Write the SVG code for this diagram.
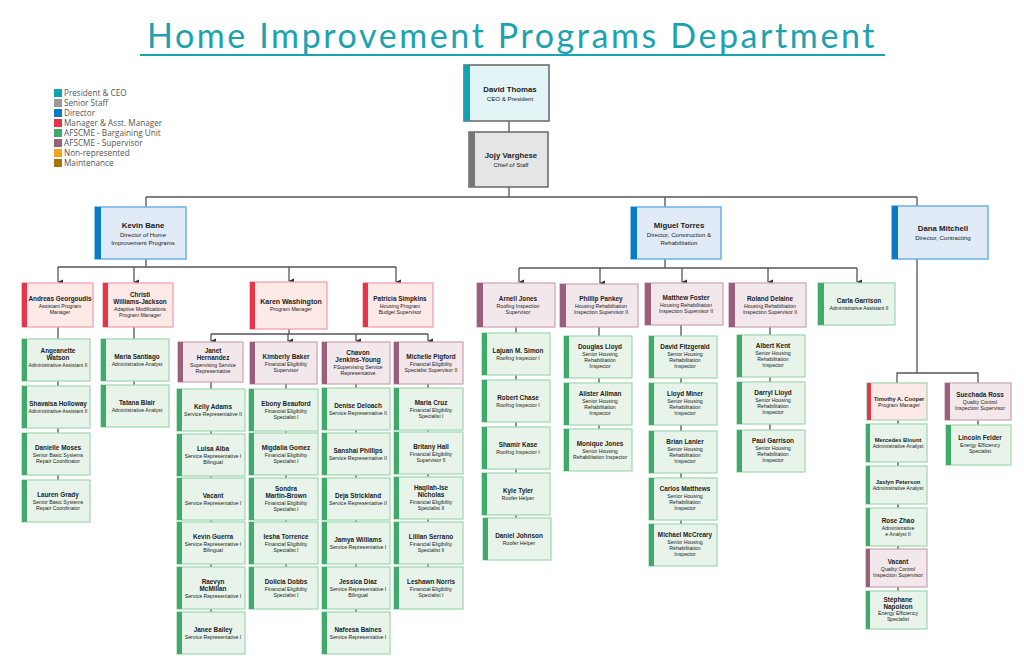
<svg xmlns="http://www.w3.org/2000/svg" width="1024" height="663" viewBox="0 0 1024 663">
<defs>
<marker id="ar" markerWidth="6" markerHeight="6" refX="3" refY="5" orient="auto" markerUnits="userSpaceOnUse"><path d="M0.5,0 L5.5,0 L3,5.5 Z" fill="#333"/></marker>
<style>
text{font-family:"Liberation Sans",Arial,sans-serif;text-anchor:middle;fill:#222}
.n{font-weight:bold;font-size:6.4px}
.t{font-size:5.2px}
.N{font-weight:bold;font-size:7.8px}
.T{font-size:6.1px}
.ceo{fill:#e3f4f7;stroke:#666;stroke-width:1.5}
.sen{fill:#e5e5e5;stroke:#666;stroke-width:1.5}
.dir{fill:#e1ebf7;stroke:#6ab2e4;stroke-width:1.5}
.mgr{fill:#fde9e6;stroke:#f19ca7;stroke-width:1.2}
.bar{fill:#e8f4ea;stroke:#9ed6af;stroke-width:1.2}
.sup{fill:#f2e8ec;stroke:#c9a2b4;stroke-width:1.2}
.aceo{fill:#13a3b0}.asen{fill:#777}.adir{fill:#0a7ac4}.amgr{fill:#e8334a}.abar{fill:#3faa6a}.asup{fill:#9a5f7a}
.c{fill:none;stroke:#555;stroke-width:1.3}
.lg{font-family:"Open Sans","Liberation Sans",sans-serif;font-size:8.2px;text-anchor:start;fill:#555}
</style>
</defs>
<rect width="1024" height="663" fill="#fff"/>
<text x="512" y="48" style="font-family:Lato,'Open Sans',sans-serif;font-size:34px;font-weight:normal;fill:#1ba3b0;letter-spacing:2.6px">Home Improvement Programs Department</text>
<line x1="140" y1="55" x2="885" y2="55" stroke="#1ba3b0" stroke-width="2"/>
<g id="legend">
<rect x="54" y="89" width="8" height="8" class="aceo"/><text class="lg" x="64" y="96">President &amp; CEO</text>
<rect x="54" y="99" width="8" height="8" fill="#999"/><text class="lg" x="64" y="106">Senior Staff</text>
<rect x="54" y="109" width="8" height="8" class="adir"/><text class="lg" x="64" y="116">Director</text>
<rect x="54" y="119" width="8" height="8" class="amgr"/><text class="lg" x="64" y="126">Manager &amp; Asst. Manager</text>
<rect x="54" y="129" width="8" height="8" class="abar"/><text class="lg" x="64" y="136">AFSCME - Bargaining Unit</text>
<rect x="54" y="139" width="8" height="8" class="asup"/><text class="lg" x="64" y="146">AFSCME - Supervisor</text>
<rect x="54" y="149" width="8" height="8" fill="#f7a21b"/><text class="lg" x="64" y="156">Non-represented</text>
<rect x="54" y="159" width="8" height="8" fill="#a8730f"/><text class="lg" x="64" y="166">Maintenance</text>
</g>
<g id="connectors">
<path class="c" d="M509 121V132M509 187V197M146 197H917M146 197V207M665 197V207M917 197V206"/>
<path class="c" d="M146 259V267M58 267H396M289 329V334M211 334H428M665 259V268M519 268H857M917 259V373"/>
<path class="c" marker-end="url(#ar)" d="M58 267V282"/>
<path class="c" marker-end="url(#ar)" d="M134 267V282"/>
<path class="c" marker-end="url(#ar)" d="M289 267V281"/>
<path class="c" marker-end="url(#ar)" d="M396 267V282"/>
<path class="c" marker-end="url(#ar)" d="M211 334V341"/>
<path class="c" marker-end="url(#ar)" d="M288 334V341"/>
<path class="c" marker-end="url(#ar)" d="M356 334V341"/>
<path class="c" marker-end="url(#ar)" d="M428 334V341"/>
<path class="c" marker-end="url(#ar)" d="M519 268V282"/>
<path class="c" marker-end="url(#ar)" d="M600 268V283"/>
<path class="c" marker-end="url(#ar)" d="M682 268V282"/>
<path class="c" marker-end="url(#ar)" d="M768 268V282"/>
<path class="c" marker-end="url(#ar)" d="M857 268V282"/>
<path class="c" stroke="#9a5f7a" d="M897 383V373H978V383"/>
<path class="c" d="M58 327V480M134 327V385M211 382V612M286 384V567M356 384V612M428 384V567M516 327V518M599 327V429M681 325V524M770 327V430M898 420V591M978 420V425"/>
</g>
<g id="ceo"><rect class="ceo" x="464" y="65" width="85" height="56"/><rect class="aceo" x="464" y="65" width="6" height="56"/><text x="510" y="92"><tspan class="N">David Thomas</tspan><tspan class="T" x="510" dy="9">CEO &amp; President</tspan></text></g>
<g id="chief"><rect class="sen" x="469" y="132" width="79" height="55"/><rect class="asen" x="469" y="132" width="6" height="55"/><text x="511" y="158"><tspan class="N">Jojy Varghese</tspan><tspan class="T" x="511" dy="9">Chief of Staff</tspan></text></g>
<g id="kevin"><rect class="dir" x="95" y="207" width="91" height="52"/><rect class="adir" x="95" y="207" width="6" height="52"/><text x="143" y="228"><tspan class="N">Kevin Bane</tspan><tspan class="T" x="143" dy="9">Director of Home</tspan><tspan class="T" x="143" dy="8">Improvement Programs</tspan></text></g>
<g id="miguel"><rect class="dir" x="631" y="207" width="90" height="52"/><rect class="adir" x="631" y="207" width="6" height="52"/><text x="679" y="228"><tspan class="N">Miguel Torres</tspan><tspan class="T" x="679" dy="9">Director, Construction &amp;</tspan><tspan class="T" x="679" dy="8">Rehabilitation</tspan></text></g>
<g id="dana"><rect class="dir" x="892" y="206" width="96" height="53"/><rect class="adir" x="892" y="206" width="6" height="53"/><text x="943" y="231"><tspan class="N">Dana Mitchell</tspan><tspan class="T" x="943" dy="9">Director, Contracting</tspan></text></g>

<g id="andreas"><rect class="mgr" x="22" y="283" width="71" height="44"/><rect class="amgr" x="22" y="283" width="5" height="44"/><text x="60" y="301"><tspan class="n">Andreas Georgoudis</tspan><tspan class="t" x="60" dy="6.5">Assistant Program</tspan><tspan class="t" x="60" dy="6">Manager</tspan></text></g>
<g id="christi"><rect class="mgr" x="103" y="283" width="70" height="44"/><rect class="amgr" x="103" y="283" width="5" height="44"/><text x="140" y="297"><tspan class="n">Christi</tspan><tspan class="n" x="140" dy="7">Williams-Jackson</tspan><tspan class="t" x="140" dy="6.5">Adaptive Modifications</tspan><tspan class="t" x="140" dy="6">Program Manager</tspan></text></g>
<g id="karen"><rect class="mgr" x="250" y="282" width="77" height="47"/><rect class="amgr" x="250" y="282" width="5" height="47"/><text x="291" y="304"><tspan class="N" style="font-size:7px">Karen Washington</tspan><tspan class="t" x="291" dy="7">Program Manager</tspan></text></g>
<g id="patricia"><rect class="mgr" x="363" y="283" width="70" height="44"/><rect class="amgr" x="363" y="283" width="5" height="44"/><text x="400" y="301"><tspan class="n">Patricia Simpkins</tspan><tspan class="t" x="400" dy="6.5">Housing Program</tspan><tspan class="t" x="400" dy="6">Budget Supervisor</tspan></text></g>

<g id="angeanette"><rect class="bar" x="22" y="339" width="68" height="42"/><rect class="abar" x="22" y="339" width="5" height="42"/><text x="58" y="353"><tspan class="n">Angeanette</tspan><tspan class="n" x="58" dy="7">Watson</tspan><tspan class="t" x="58" dy="6.5">Administrative Assistant II</tspan></text></g>
<g id="shavaisa"><rect class="bar" x="22" y="386" width="68" height="42"/><rect class="abar" x="22" y="386" width="5" height="42"/><text x="58" y="406"><tspan class="n">Shavaisa Holloway</tspan><tspan class="t" x="58" dy="6.5">Administrative Assistant II</tspan></text></g>
<g id="danielle"><rect class="bar" x="22" y="433" width="68" height="42"/><rect class="abar" x="22" y="433" width="5" height="42"/><text x="58" y="450"><tspan class="n">Danielle Moses</tspan><tspan class="t" x="58" dy="6.5">Senior Basic Systems</tspan><tspan class="t" x="58" dy="6">Repair Coordinator</tspan></text></g>
<g id="lauren"><rect class="bar" x="22" y="480" width="68" height="42"/><rect class="abar" x="22" y="480" width="5" height="42"/><text x="58" y="497"><tspan class="n">Lauren Grady</tspan><tspan class="t" x="58" dy="6.5">Senior Basic Systems</tspan><tspan class="t" x="58" dy="6">Repair Coordinator</tspan></text></g>
<g id="mariasantiago"><rect class="bar" x="101" y="339" width="68" height="42"/><rect class="abar" x="101" y="339" width="5" height="42"/><text x="137" y="359"><tspan class="n">Maria Santiago</tspan><tspan class="t" x="137" dy="6.5">Administrative Analyst</tspan></text></g>
<g id="tatana"><rect class="bar" x="101" y="385" width="68" height="42"/><rect class="abar" x="101" y="385" width="5" height="42"/><text x="137" y="405"><tspan class="n">Tatana Blair</tspan><tspan class="t" x="137" dy="6.5">Administrative Analyst</tspan></text></g>

<g id="janet"><rect class="sup" x="178" y="342" width="65" height="40"/><rect class="asup" x="178" y="342" width="5" height="40"/><text x="213" y="353"><tspan class="n">Janet</tspan><tspan class="n" x="213" dy="7">Hernandez</tspan><tspan class="t" x="213" dy="6.5">Supervising Service</tspan><tspan class="t" x="213" dy="6">Representative</tspan></text></g>
<g id="kimberly"><rect class="sup" x="250" y="342" width="67" height="42"/><rect class="asup" x="250" y="342" width="5" height="42"/><text x="286" y="359"><tspan class="n">Kimberly Baker</tspan><tspan class="t" x="286" dy="6.5">Financial Eligibility</tspan><tspan class="t" x="286" dy="6">Supervisor</tspan></text></g>
<g id="chavon"><rect class="sup" x="322" y="342" width="68" height="42"/><rect class="asup" x="322" y="342" width="5" height="42"/><text x="358" y="355"><tspan class="n">Chavon</tspan><tspan class="n" x="358" dy="7">Jenkins-Young</tspan><tspan class="t" x="358" dy="6.5">FSupervising Service</tspan><tspan class="t" x="358" dy="6">Representative</tspan></text></g>
<g id="michelle"><rect class="sup" x="394" y="342" width="69" height="42"/><rect class="asup" x="394" y="342" width="5" height="42"/><text x="431" y="359"><tspan class="n">Michelle Pigford</tspan><tspan class="t" x="431" dy="6.5">Financial Eligibility</tspan><tspan class="t" x="431" dy="6">Specialist Supervisor II</tspan></text></g>

<g id="kelly"><rect class="bar" x="177" y="389" width="68" height="42"/><rect class="abar" x="177" y="389" width="5" height="42"/><text x="213" y="409"><tspan class="n">Kelly Adams</tspan><tspan class="t" x="213" dy="6.5">Service Representative II</tspan></text></g>
<g id="luisa"><rect class="bar" x="177" y="434" width="68" height="42"/><rect class="abar" x="177" y="434" width="5" height="42"/><text x="213" y="451"><tspan class="n">Luisa Alba</tspan><tspan class="t" x="213" dy="6.5">Service Representative I</tspan><tspan class="t" x="213" dy="6">Bilingual</tspan></text></g>
<g id="vacant1"><rect class="bar" x="177" y="478" width="68" height="42"/><rect class="abar" x="177" y="478" width="5" height="42"/><text x="213" y="498"><tspan class="n">Vacant</tspan><tspan class="t" x="213" dy="6.5">Service Representative I</tspan></text></g>
<g id="kevinguerra"><rect class="bar" x="177" y="522" width="68" height="42"/><rect class="abar" x="177" y="522" width="5" height="42"/><text x="213" y="539"><tspan class="n">Kevin Guerra</tspan><tspan class="t" x="213" dy="6.5">Service Representative I</tspan><tspan class="t" x="213" dy="6">Bilingual</tspan></text></g>
<g id="raevyn"><rect class="bar" x="177" y="567" width="68" height="42"/><rect class="abar" x="177" y="567" width="5" height="42"/><text x="213" y="584"><tspan class="n">Raevyn</tspan><tspan class="n" x="213" dy="7">McMillan</tspan><tspan class="t" x="213" dy="6.5">Service Representative I</tspan></text></g>
<g id="janee"><rect class="bar" x="177" y="612" width="68" height="42"/><rect class="abar" x="177" y="612" width="5" height="42"/><text x="213" y="632"><tspan class="n">Janee Bailey</tspan><tspan class="t" x="213" dy="6.5">Service Representative I</tspan></text></g>

<g id="ebony"><rect class="bar" x="249" y="389" width="69" height="42"/><rect class="abar" x="249" y="389" width="5" height="42"/><text x="286" y="406"><tspan class="n">Ebony Beauford</tspan><tspan class="t" x="286" dy="6.5">Financial Eligibility</tspan><tspan class="t" x="286" dy="6">Specialist I</tspan></text></g>
<g id="migdalia"><rect class="bar" x="249" y="433" width="69" height="42"/><rect class="abar" x="249" y="433" width="5" height="42"/><text x="286" y="450"><tspan class="n">Migdalia Gomez</tspan><tspan class="t" x="286" dy="6.5">Financial Eligibility</tspan><tspan class="t" x="286" dy="6">Specialist I</tspan></text></g>
<g id="sondra"><rect class="bar" x="249" y="478" width="69" height="42"/><rect class="abar" x="249" y="478" width="5" height="42"/><text x="286" y="491"><tspan class="n">Sondra</tspan><tspan class="n" x="286" dy="7">Martin-Brown</tspan><tspan class="t" x="286" dy="6.5">Financial Eligibility</tspan><tspan class="t" x="286" dy="6">Specialist I</tspan></text></g>
<g id="iesha"><rect class="bar" x="249" y="522" width="69" height="42"/><rect class="abar" x="249" y="522" width="5" height="42"/><text x="286" y="539"><tspan class="n">Iesha Torrence</tspan><tspan class="t" x="286" dy="6.5">Financial Eligibility</tspan><tspan class="t" x="286" dy="6">Specialist I</tspan></text></g>
<g id="dolicia"><rect class="bar" x="249" y="567" width="69" height="42"/><rect class="abar" x="249" y="567" width="5" height="42"/><text x="286" y="584"><tspan class="n">Dolicia Dobbs</tspan><tspan class="t" x="286" dy="6.5">Financial Eligibility</tspan><tspan class="t" x="286" dy="6">Specialist I</tspan></text></g>

<g id="denise"><rect class="bar" x="322" y="388" width="68" height="42"/><rect class="abar" x="322" y="388" width="5" height="42"/><text x="358" y="408"><tspan class="n">Denise Deloach</tspan><tspan class="t" x="358" dy="6.5">Service Representative II</tspan></text></g>
<g id="sanshai"><rect class="bar" x="322" y="433" width="68" height="42"/><rect class="abar" x="322" y="433" width="5" height="42"/><text x="358" y="453"><tspan class="n">Sanshai Phillips</tspan><tspan class="t" x="358" dy="6.5">Service Representative II</tspan></text></g>
<g id="deja"><rect class="bar" x="322" y="478" width="68" height="42"/><rect class="abar" x="322" y="478" width="5" height="42"/><text x="358" y="498"><tspan class="n">Deja Strickland</tspan><tspan class="t" x="358" dy="6.5">Service Representative II</tspan></text></g>
<g id="jamya"><rect class="bar" x="322" y="522" width="68" height="42"/><rect class="abar" x="322" y="522" width="5" height="42"/><text x="358" y="542"><tspan class="n">Jamya Williams</tspan><tspan class="t" x="358" dy="6.5">Service Representative I</tspan></text></g>
<g id="jessica"><rect class="bar" x="322" y="567" width="68" height="42"/><rect class="abar" x="322" y="567" width="5" height="42"/><text x="358" y="584"><tspan class="n">Jessica Diaz</tspan><tspan class="t" x="358" dy="6.5">Service Representative I</tspan><tspan class="t" x="358" dy="6">Bilingual</tspan></text></g>
<g id="nafeesa"><rect class="bar" x="322" y="612" width="68" height="42"/><rect class="abar" x="322" y="612" width="5" height="42"/><text x="358" y="632"><tspan class="n">Nafeesa Baines</tspan><tspan class="t" x="358" dy="6.5">Service Representative I</tspan></text></g>

<g id="mariacruz"><rect class="bar" x="394" y="388" width="69" height="42"/><rect class="abar" x="394" y="388" width="5" height="42"/><text x="431" y="405"><tspan class="n">Maria Cruz</tspan><tspan class="t" x="431" dy="6.5">Financial Eligibility</tspan><tspan class="t" x="431" dy="6">Specialist I</tspan></text></g>
<g id="britany"><rect class="bar" x="394" y="432" width="69" height="42"/><rect class="abar" x="394" y="432" width="5" height="42"/><text x="431" y="449"><tspan class="n">Britany Hall</tspan><tspan class="t" x="431" dy="6.5">Financial Eligibility</tspan><tspan class="t" x="431" dy="6">Supervisor II</tspan></text></g>
<g id="haqilah"><rect class="bar" x="394" y="477" width="69" height="42"/><rect class="abar" x="394" y="477" width="5" height="42"/><text x="431" y="490"><tspan class="n">Haqilah-Ise</tspan><tspan class="n" x="431" dy="7">Nicholas</tspan><tspan class="t" x="431" dy="6.5">Financial Eligibility</tspan><tspan class="t" x="431" dy="6">Specialist II</tspan></text></g>
<g id="lillian"><rect class="bar" x="394" y="522" width="69" height="42"/><rect class="abar" x="394" y="522" width="5" height="42"/><text x="431" y="539"><tspan class="n">Lillian Serrano</tspan><tspan class="t" x="431" dy="6.5">Financial Eligibility</tspan><tspan class="t" x="431" dy="6">Specialist II</tspan></text></g>
<g id="leshawn"><rect class="bar" x="394" y="567" width="69" height="42"/><rect class="abar" x="394" y="567" width="5" height="42"/><text x="431" y="584"><tspan class="n">Leshawn Norris</tspan><tspan class="t" x="431" dy="6.5">Financial Eligibility</tspan><tspan class="t" x="431" dy="6">Specialist I</tspan></text></g>

<g id="arnell"><rect class="sup" x="477" y="283" width="78" height="44"/><rect class="asup" x="477" y="283" width="6" height="44"/><text x="518" y="301"><tspan class="n">Arnell Jones</tspan><tspan class="t" x="518" dy="6.5">Roofing Inspection</tspan><tspan class="t" x="518" dy="6">Supervisor</tspan></text></g>
<g id="phillip"><rect class="sup" x="560" y="284" width="78" height="43"/><rect class="asup" x="560" y="284" width="6" height="43"/><text x="601" y="301"><tspan class="n">Phillip Pankey</tspan><tspan class="t" x="601" dy="6.5">Housing Rehabilitation</tspan><tspan class="t" x="601" dy="6">Inspection Supervisor II</tspan></text></g>
<g id="matthew"><rect class="sup" x="645" y="283" width="78" height="42"/><rect class="asup" x="645" y="283" width="6" height="42"/><text x="686" y="300"><tspan class="n">Matthew Foster</tspan><tspan class="t" x="686" dy="6.5">Housing Rehabilitation</tspan><tspan class="t" x="686" dy="6">Inspection Supervisor II</tspan></text></g>
<g id="roland"><rect class="sup" x="729" y="283" width="77" height="44"/><rect class="asup" x="729" y="283" width="6" height="44"/><text x="770" y="301"><tspan class="n">Roland Delaine</tspan><tspan class="t" x="770" dy="6.5">Housing Rehabilitation</tspan><tspan class="t" x="770" dy="6">Inspection Supervisor II</tspan></text></g>
<g id="carla"><rect class="bar" x="818" y="283" width="77" height="42"/><rect class="abar" x="818" y="283" width="6" height="42"/><text x="859" y="303"><tspan class="n">Carla Garrison</tspan><tspan class="t" x="859" dy="6.5">Administrative Assistant II</tspan></text></g>

<g id="lajuan"><rect class="bar" x="482" y="333" width="68" height="42"/><rect class="abar" x="482" y="333" width="5" height="42"/><text x="518" y="353"><tspan class="n">Lajuan M. Simon</tspan><tspan class="t" x="518" dy="6.5">Roofing Inspector I</tspan></text></g>
<g id="robert"><rect class="bar" x="482" y="380" width="68" height="42"/><rect class="abar" x="482" y="380" width="5" height="42"/><text x="518" y="400"><tspan class="n">Robert Chase</tspan><tspan class="t" x="518" dy="6.5">Roofing Inspector I</tspan></text></g>
<g id="shamir"><rect class="bar" x="482" y="427" width="68" height="42"/><rect class="abar" x="482" y="427" width="5" height="42"/><text x="518" y="447"><tspan class="n">Shamir Kase</tspan><tspan class="t" x="518" dy="6.5">Roofing Inspector I</tspan></text></g>
<g id="kyle"><rect class="bar" x="482" y="473" width="68" height="42"/><rect class="abar" x="482" y="473" width="5" height="42"/><text x="518" y="493"><tspan class="n">Kyle Tyler</tspan><tspan class="t" x="518" dy="6.5">Roofer Helper</tspan></text></g>
<g id="daniel"><rect class="bar" x="483" y="518" width="68" height="42"/><rect class="abar" x="483" y="518" width="5" height="42"/><text x="519" y="538"><tspan class="n">Daniel Johnson</tspan><tspan class="t" x="519" dy="6.5">Roofer Helper</tspan></text></g>

<g id="douglas"><rect class="bar" x="564" y="336" width="68" height="42"/><rect class="abar" x="564" y="336" width="5" height="42"/><text x="600" y="349"><tspan class="n">Douglas Lloyd</tspan><tspan class="t" x="600" dy="6.5">Senior Housing</tspan><tspan class="t" x="600" dy="6">Rehabilitation</tspan><tspan class="t" x="600" dy="6">Inspector</tspan></text></g>
<g id="alister"><rect class="bar" x="564" y="383" width="68" height="42"/><rect class="abar" x="564" y="383" width="5" height="42"/><text x="600" y="396"><tspan class="n">Alister Allman</tspan><tspan class="t" x="600" dy="6.5">Senior Housing</tspan><tspan class="t" x="600" dy="6">Rehabilitation</tspan><tspan class="t" x="600" dy="6">Inspector</tspan></text></g>
<g id="monique"><rect class="bar" x="564" y="429" width="68" height="42"/><rect class="abar" x="564" y="429" width="5" height="42"/><text x="600" y="446"><tspan class="n">Monique Jones</tspan><tspan class="t" x="600" dy="6.5">Senior Housing</tspan><tspan class="t" x="600" dy="6">Rehabilitation Inspector</tspan></text></g>

<g id="davidf"><rect class="bar" x="649" y="336" width="68" height="42"/><rect class="abar" x="649" y="336" width="5" height="42"/><text x="685" y="349"><tspan class="n">David Fitzgerald</tspan><tspan class="t" x="685" dy="6.5">Senior Housing</tspan><tspan class="t" x="685" dy="6">Rehabilitation</tspan><tspan class="t" x="685" dy="6">Inspector</tspan></text></g>
<g id="lloydm"><rect class="bar" x="649" y="383" width="68" height="42"/><rect class="abar" x="649" y="383" width="5" height="42"/><text x="685" y="396"><tspan class="n">Lloyd Miner</tspan><tspan class="t" x="685" dy="6.5">Senior Housing</tspan><tspan class="t" x="685" dy="6">Rehabilitation</tspan><tspan class="t" x="685" dy="6">Inspector</tspan></text></g>
<g id="brian"><rect class="bar" x="649" y="431" width="68" height="42"/><rect class="abar" x="649" y="431" width="5" height="42"/><text x="685" y="444"><tspan class="n">Brian Lanier</tspan><tspan class="t" x="685" dy="6.5">Senior Housing</tspan><tspan class="t" x="685" dy="6">Rehabilitation</tspan><tspan class="t" x="685" dy="6">Inspector</tspan></text></g>
<g id="carlos"><rect class="bar" x="649" y="478" width="68" height="42"/><rect class="abar" x="649" y="478" width="5" height="42"/><text x="685" y="491"><tspan class="n">Carlos Matthews</tspan><tspan class="t" x="685" dy="6.5">Senior Housing</tspan><tspan class="t" x="685" dy="6">Rehabilitation</tspan><tspan class="t" x="685" dy="6">Inspector</tspan></text></g>
<g id="michael"><rect class="bar" x="649" y="524" width="68" height="42"/><rect class="abar" x="649" y="524" width="5" height="42"/><text x="685" y="537"><tspan class="n">Michael McCreary</tspan><tspan class="t" x="685" dy="6.5">Senior Housing</tspan><tspan class="t" x="685" dy="6">Rehabilitation</tspan><tspan class="t" x="685" dy="6">Inspector</tspan></text></g>

<g id="albert"><rect class="bar" x="737" y="335" width="68" height="42"/><rect class="abar" x="737" y="335" width="5" height="42"/><text x="773" y="348"><tspan class="n">Albert Kent</tspan><tspan class="t" x="773" dy="6.5">Senior Housing</tspan><tspan class="t" x="773" dy="6">Rehabilitation</tspan><tspan class="t" x="773" dy="6">Inspector</tspan></text></g>
<g id="darryl"><rect class="bar" x="737" y="382" width="68" height="42"/><rect class="abar" x="737" y="382" width="5" height="42"/><text x="773" y="395"><tspan class="n">Darryl Lloyd</tspan><tspan class="t" x="773" dy="6.5">Senior Housing</tspan><tspan class="t" x="773" dy="6">Rehabilitation</tspan><tspan class="t" x="773" dy="6">Inspector</tspan></text></g>
<g id="paul"><rect class="bar" x="737" y="430" width="68" height="42"/><rect class="abar" x="737" y="430" width="5" height="42"/><text x="773" y="443"><tspan class="n">Paul Garrison</tspan><tspan class="t" x="773" dy="6.5">Senior Housing</tspan><tspan class="t" x="773" dy="6">Rehabilitation</tspan><tspan class="t" x="773" dy="6">Inspector</tspan></text></g>

<g id="timothy"><rect class="mgr" style="stroke:#9ed6af" x="867" y="383" width="60" height="37"/><rect class="amgr" x="867" y="383" width="4" height="37"/><text x="899" y="401"><tspan class="n" style="font-size:5.7px">Timothy A. Cooper</tspan><tspan class="t" x="899" dy="6">Program Manager</tspan></text></g>
<g id="suechada"><rect class="sup" x="945" y="383" width="66" height="37"/><rect class="asup" x="945" y="383" width="5" height="37"/><text x="980" y="397"><tspan class="n">Suechada Ross</tspan><tspan class="t" x="980" dy="6.5">Quality Control</tspan><tspan class="t" x="980" dy="6">Inspection Supervisor</tspan></text></g>
<g id="mercedes"><rect class="bar" x="866" y="424" width="61" height="38"/><rect class="abar" x="866" y="424" width="4" height="38"/><text x="898" y="442"><tspan class="n" style="font-size:5.8px">Mercedes Blount</tspan><tspan class="t" x="898" dy="6">Administrative Analyst</tspan></text></g>
<g id="jaslyn"><rect class="bar" x="866" y="466" width="61" height="38"/><rect class="abar" x="866" y="466" width="4" height="38"/><text x="898" y="484"><tspan class="n" style="font-size:5.8px">Jaslyn Peterson</tspan><tspan class="t" x="898" dy="6">Administrative Analyst</tspan></text></g>
<g id="rose"><rect class="bar" x="866" y="508" width="61" height="38"/><rect class="abar" x="866" y="508" width="4" height="38"/><text x="898" y="523"><tspan class="n">Rose Zhao</tspan><tspan class="t" x="898" dy="6.5">Administrative</tspan><tspan class="t" x="898" dy="6">e Analyst II</tspan></text></g>
<g id="vacant2"><rect class="sup" x="866" y="549" width="61" height="38"/><rect class="asup" x="866" y="549" width="4" height="38"/><text x="898" y="564"><tspan class="n">Vacant</tspan><tspan class="t" x="898" dy="6.5">Quality Control</tspan><tspan class="t" x="898" dy="6">Inspection Supervisor</tspan></text></g>
<g id="stephane"><rect class="bar" x="866" y="591" width="61" height="38"/><rect class="abar" x="866" y="591" width="4" height="38"/><text x="898" y="602"><tspan class="n">Stéphane</tspan><tspan class="n" x="898" dy="6.5">Napoléon</tspan><tspan class="t" x="898" dy="6.5">Energy Efficiency</tspan><tspan class="t" x="898" dy="6">Specialist</tspan></text></g>
<g id="lincoln"><rect class="bar" x="946" y="425" width="65" height="40"/><rect class="abar" x="946" y="425" width="5" height="40"/><text x="980" y="440"><tspan class="n">Lincoln Felder</tspan><tspan class="t" x="980" dy="6.5">Energy Efficiency</tspan><tspan class="t" x="980" dy="6">Specialist</tspan></text></g>
</svg>
